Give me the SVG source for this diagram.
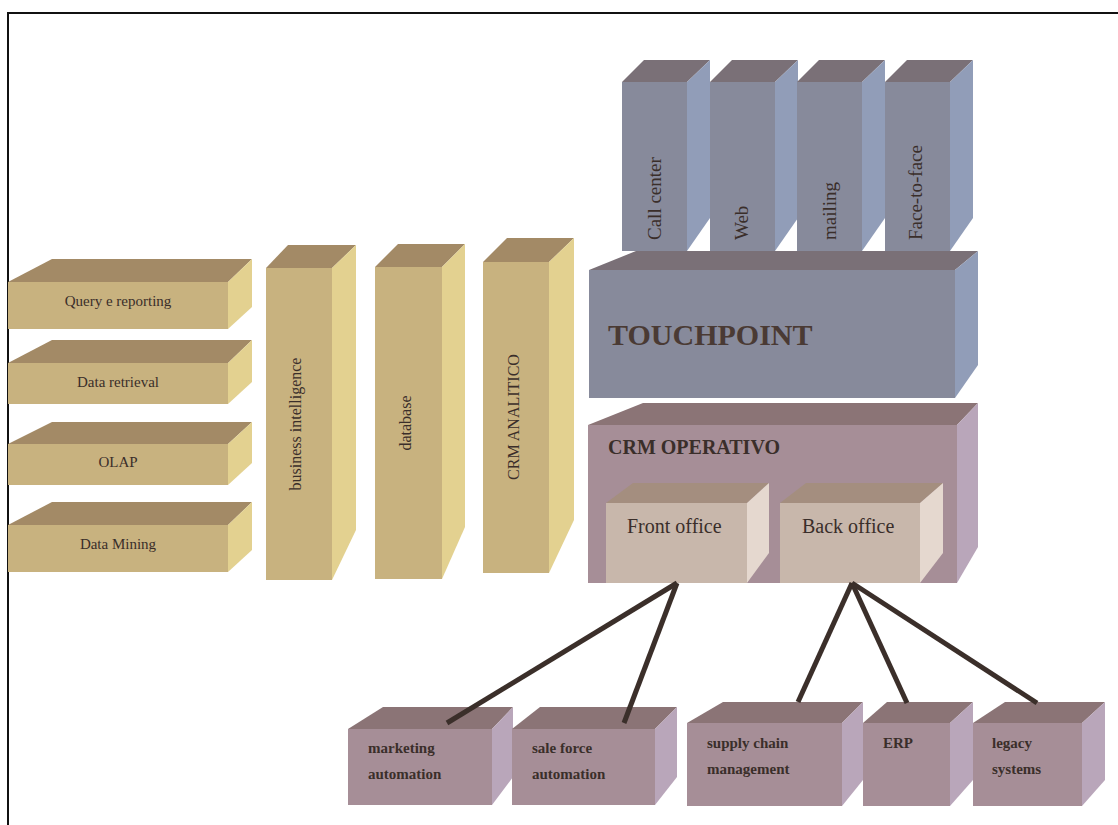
<svg xmlns="http://www.w3.org/2000/svg" width="1118" height="825" viewBox="0 0 1118 825">
<style>
.tf{fill:#c8b27f}.tt{fill:#a38a66}.tr{fill:#e3d190}
.gf{fill:#878a9b}.gt{fill:#7a7077}.gr{fill:#919db8}
.mf{fill:#a68e97}.mt{fill:#8b7476}.mr{fill:#b9a6ba}
.lf{fill:#c8b7ab}.lt{fill:#a48e7f}.lr{fill:#e5d8cf}
text{font-family:"Liberation Serif","Times New Roman",serif;fill:#3a2e2a}
.s15{font-size:15px;text-anchor:middle}
.v16{font-size:16px;text-anchor:middle}
.v19{font-size:19px}
.b15{font-size:15px;font-weight:bold}
.conn{stroke:#3b2f2a;stroke-width:5;fill:none}
</style>
<rect width="1118" height="825" fill="#ffffff"/>
<polyline points="8,825 8,13 1118,13" fill="none" stroke="#111" stroke-width="2"/>

<g id="query">
<rect class="tf" x="8" y="282" width="220" height="47"/>
<polygon class="tt" points="8,282 52,259 252,259 228,282"/>
<polygon class="tr" points="228,282 252,259 252,307 228,329"/>
<text class="s15" x="118" y="306">Query e reporting</text>
</g>
<g id="retrieval">
<rect class="tf" x="8" y="363" width="220" height="41"/>
<polygon class="tt" points="8,363 52,340 252,340 228,363"/>
<polygon class="tr" points="228,363 252,340 252,382 228,404"/>
<text class="s15" x="118" y="387">Data retrieval</text>
</g>
<g id="olap">
<rect class="tf" x="8" y="444" width="220" height="41"/>
<polygon class="tt" points="8,444 52,422 252,422 228,444"/>
<polygon class="tr" points="228,444 252,422 252,463 228,485"/>
<text class="s15" x="118" y="467">OLAP</text>
</g>
<g id="mining">
<rect class="tf" x="8" y="525" width="220" height="47"/>
<polygon class="tt" points="8,525 52,502 252,502 228,525"/>
<polygon class="tr" points="228,525 252,502 252,550 228,572"/>
<text class="s15" x="118" y="549">Data Mining</text>
</g>

<g id="bi">
<rect class="tf" x="266" y="268" width="66" height="312"/>
<polygon class="tt" points="266,268 288,245 356,245 332,268"/>
<polygon class="tr" points="332,268 356,245 356,530 332,580"/>
<text class="v16" transform="translate(301,424) rotate(-90)">business intelligence</text>
</g>
<g id="database">
<rect class="tf" x="375" y="267" width="67" height="312"/>
<polygon class="tt" points="375,267 398,244 465,244 442,267"/>
<polygon class="tr" points="442,267 465,244 465,527 442,579"/>
<text class="v16" transform="translate(411,423) rotate(-90)">database</text>
</g>
<g id="crmanalitico">
<rect class="tf" x="483" y="262" width="66" height="311"/>
<polygon class="tt" points="483,262 507,238 574,238 549,262"/>
<polygon class="tr" points="549,262 574,238 574,520 549,573"/>
<text class="v16" transform="translate(519,417) rotate(-90)">CRM ANALITICO</text>
</g>

<g id="touchpoint">
<rect class="gf" x="589" y="270" width="366" height="128"/>
<polygon class="gt" points="589,270 636,251 978,251 955,270"/>
<polygon class="gr" points="955,270 978,251 978,365 955,398"/>
<text x="608" y="345" style="font-size:30px;font-weight:bold;fill:#4a3a34">TOUCHPOINT</text>
</g>
<g id="callcenter">
<rect class="gf" x="622" y="82" width="65" height="169"/>
<polygon class="gt" points="622,82 644,60 710,60 687,82"/>
<polygon class="gr" points="687,82 710,60 710,218 687,251"/>
<text class="v19" transform="translate(661,240) rotate(-90)">Call center</text>
</g>
<g id="web">
<rect class="gf" x="710" y="82" width="65" height="169"/>
<polygon class="gt" points="710,82 732,60 798,60 775,82"/>
<polygon class="gr" points="775,82 798,60 798,218 775,251"/>
<text class="v19" transform="translate(748,240) rotate(-90)">Web</text>
</g>
<g id="mailing">
<rect class="gf" x="797" y="82" width="65" height="169"/>
<polygon class="gt" points="797,82 819,60 885,60 862,82"/>
<polygon class="gr" points="862,82 885,60 885,218 862,251"/>
<text class="v19" transform="translate(836,240) rotate(-90)">mailing</text>
</g>
<g id="facetoface">
<rect class="gf" x="885" y="82" width="65" height="169"/>
<polygon class="gt" points="885,82 907,60 973,60 950,82"/>
<polygon class="gr" points="950,82 973,60 973,218 950,251"/>
<text class="v19" transform="translate(922,240) rotate(-90)">Face-to-face</text>
</g>

<g id="crmoperativo">
<rect class="mf" x="588" y="425" width="369" height="158"/>
<polygon class="mt" points="588,425 643,403 978,403 957,425"/>
<polygon class="mr" points="957,425 978,403 978,547 957,583"/>
<text x="608" y="454" style="font-size:20px;font-weight:bold">CRM OPERATIVO</text>
</g>
<g id="frontoffice">
<rect class="lf" x="606" y="503" width="141" height="80"/>
<polygon class="lt" points="606,503 633,483 769,483 747,503"/>
<polygon class="lr" points="747,503 769,483 769,553 747,583"/>
<text x="627" y="533" style="font-size:20px">Front office</text>
</g>
<g id="backoffice">
<rect class="lf" x="780" y="503" width="140" height="80"/>
<polygon class="lt" points="780,503 806,483 943,483 920,503"/>
<polygon class="lr" points="920,503 943,483 943,553 920,583"/>
<text x="802" y="533" style="font-size:20px">Back office</text>
</g>

<g id="marketing">
<rect class="mf" x="348" y="729" width="144" height="76"/>
<polygon class="mt" points="348,729 383,707 513,707 492,729"/>
<polygon class="mr" points="492,729 513,707 513,777 492,805"/>
<text class="b15" x="368" y="753">marketing</text>
<text class="b15" x="368" y="779">automation</text>
</g>
<g id="saleforce">
<rect class="mf" x="512" y="729" width="143" height="76"/>
<polygon class="mt" points="512,729 540,707 677,707 655,729"/>
<polygon class="mr" points="655,729 677,707 677,777 655,805"/>
<text class="b15" x="532" y="753">sale force</text>
<text class="b15" x="532" y="779">automation</text>
</g>
<g id="supplychain">
<rect class="mf" x="687" y="723" width="155" height="83"/>
<polygon class="mt" points="687,723 723,702 863,702 842,723"/>
<polygon class="mr" points="842,723 863,702 863,780 842,806"/>
<text class="b15" x="707" y="748">supply chain</text>
<text class="b15" x="707" y="774">management</text>
</g>
<g id="erp">
<rect class="mf" x="863" y="723" width="87" height="83"/>
<polygon class="mt" points="863,723 887,702 973,702 950,723"/>
<polygon class="mr" points="950,723 973,702 973,780 950,806"/>
<text class="b15" x="883" y="748">ERP</text>
</g>
<g id="legacy">
<rect class="mf" x="973" y="723" width="109" height="83"/>
<polygon class="mt" points="973,723 1005,702 1105,702 1082,723"/>
<polygon class="mr" points="1082,723 1105,702 1105,780 1082,806"/>
<text class="b15" x="992" y="748">legacy</text>
<text class="b15" x="992" y="774">systems</text>
</g>

<g id="connectors">
<line class="conn" x1="677" y1="583" x2="447" y2="723"/>
<line class="conn" x1="677" y1="583" x2="624" y2="723"/>
<line class="conn" x1="852" y1="583" x2="798" y2="702"/>
<line class="conn" x1="852" y1="583" x2="907" y2="703"/>
<line class="conn" x1="852" y1="583" x2="1037" y2="703"/>
</g>
</svg>
